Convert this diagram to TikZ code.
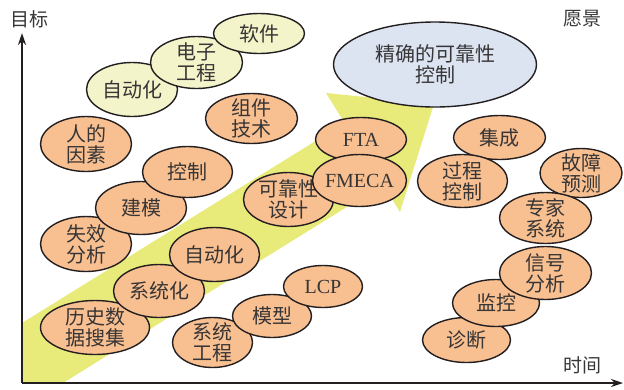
\documentclass[tikz,border=0pt]{standalone}
\usepackage{fontspec}
\setmainfont{Liberation Serif}
\newfontfamily\cjk{Noto Sans CJK SC}
\usetikzlibrary{shapes.geometric,arrows.meta}
\definecolor{orangeC}{RGB}{248,191,145}
\definecolor{yelC}{RGB}{243,244,202}
\definecolor{bandC}{RGB}{232,234,122}
\definecolor{blueC}{RGB}{220,228,242}
\definecolor{lineC}{RGB}{35,31,32}
\definecolor{textC}{RGB}{55,53,53}
\tikzset{
  ell/.style={ellipse, draw=lineC, line width=1.4pt, inner sep=0pt},
  org/.style={ell, fill=orangeC},
  yel/.style={ell, fill=yelC},
  blu/.style={ell, fill=blueC},
  lbl/.style={font=\cjk\fontsize{20}{21}\selectfont, align=center, inner sep=0pt, text=textC},
  axis/.style={line width=1.8pt, draw=lineC, -{Stealth[length=12pt,width=8pt]}},
  axlbl/.style={font=\cjk\fontsize{19}{21}\selectfont, inner sep=0pt, text=textC}
}
\newcommand\bub[7]{%
  \node[#6, minimum width=#4pt, minimum height=#5pt] (#1) at (#2,#3) {};
  \node[lbl] (#1t) at (#1) {#7};}
\newcommand\latn{\rmfamily\fontsize{20}{21}\selectfont}
\begin{document}
\begin{tikzpicture}[x=1pt,y=-1pt]
\useasboundingbox (0,0) rectangle (624,389);
% band arrow
\fill[bandC] (22,323) -- (344.6,123) -- (326,93) -- (434,104) -- (400,212) -- (383,184.6) -- (63,383) -- (22,383) -- cycle;
% axes
\coordinate (O) at (22,383);
\coordinate (Ytip) at (22,33);
\coordinate (Xtip) at (623,383);
\draw[axis] (O) -- (Ytip);
\draw[axis] (O) -- (Xtip);
\node[axlbl] (goal) at (29,19) {目标};
\node[axlbl] (vision) at (582,19) {愿景};
\node[axlbl] (time) at (582,365) {时间};
% yellow group
\bub{yz}{132}{89.5}{91}{54}{yel}{自动化}
\bub{ye}{196.5}{62.5}{92}{52}{yel}{电子\\工程}
\bub{ys}{259}{33.5}{91}{40}{yel}{软件}
% vision
\bub{vis}{435}{64.5}{203}{85}{blu}{精确的可靠性\\控制}
% left orange
\bub{zjjs}{251.5}{118.5}{92}{50}{org}{组件\\技术}
\bub{rs}{86}{144}{91}{55}{org}{人的\\因素}
\bub{sx}{86}{244}{91}{55}{org}{失效\\分析}
\bub{jm}{141}{208}{91}{53}{org}{建模}
\bub{kz}{187.5}{172}{90}{51}{org}{控制}
\bub{ls}{95}{327.5}{109}{54}{org}{历史数\\据搜集}
\bub{xth}{159}{291}{91}{53}{org}{系统化}
\bub{zdh}{214.5}{254.5}{90}{54}{org}{自动化}
\bub{xtgc}{212.5}{342.5}{80}{50}{org}{系统\\工程}
\bub{mx}{272}{316}{79}{43}{org}{模型}
\bub{lcp}{323}{286.5}{79}{42}{org}{\latn LCP}
\bub{kkx}{288.5}{199.5}{90}{54}{org}{可靠性\\设计}
\bub{fta}{361}{139.5}{91}{44}{org}{\latn FTA}
\bub{fmeca}{359.5}{180.5}{94}{52}{org}{\latn FMECA}
% right orange
\bub{jc}{499.5}{137.5}{92}{44}{org}{集成}
\bub{gc}{462.5}{181}{90}{53}{org}{过程\\控制}
\bub{gz}{581}{173}{82}{49}{org}{故障\\预测}
\bub{zjxt}{545.5}{218}{92}{51}{org}{专家\\系统}
\bub{zd}{466.5}{340}{88}{45}{org}{诊断}
\bub{jk}{496}{303}{87}{47}{org}{监控}
\bub{xh}{545.5}{273}{92}{53}{org}{信号\\分析}
\end{tikzpicture}
\end{document}
